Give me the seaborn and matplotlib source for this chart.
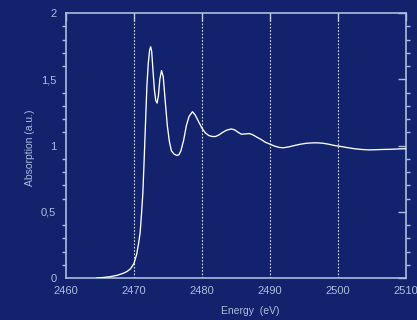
import numpy as np
import pandas as pd
import seaborn as sns
import matplotlib.pyplot as plt
from matplotlib.ticker import MultipleLocator, FuncFormatter

# values
energy = [2464.5, 2465.5, 2466.5, 2467.5, 2468.4, 2469.0, 2469.5, 2470.0, 2470.4, 2470.7,
          2470.9, 2471.1, 2471.3, 2471.5, 2471.7, 2471.9, 2472.1, 2472.3, 2472.45, 2472.6,
          2472.8, 2473.0, 2473.2, 2473.4, 2473.6, 2473.8, 2474.05, 2474.3, 2474.6, 2474.9,
          2475.2, 2475.5, 2475.9, 2476.3, 2476.6, 2476.9, 2477.3, 2477.7, 2478.1, 2478.6,
          2479.0, 2479.5, 2480.0, 2480.5, 2481.0, 2481.5, 2482.0, 2482.5, 2483.0, 2483.6,
          2484.3, 2484.8, 2485.3, 2485.8, 2486.4, 2487.0, 2487.5, 2488.0, 2488.7, 2489.3,
          2490.0, 2490.7, 2491.4, 2492.0, 2492.8, 2493.6, 2494.5, 2495.4, 2496.3, 2497.0,
          2497.8, 2498.6, 2499.5, 2500.5, 2501.5, 2502.5, 2503.5, 2504.5, 2505.5, 2506.5,
          2507.5, 2508.5, 2509.3, 2510.0]
absorption = [0.000, 0.004, 0.010, 0.020, 0.035, 0.050, 0.070, 0.110, 0.180, 0.270,
              0.340, 0.480, 0.640, 0.900, 1.180, 1.450, 1.620, 1.720, 1.745, 1.710,
              1.560, 1.420, 1.340, 1.320, 1.380, 1.500, 1.565, 1.520, 1.330, 1.150,
              1.030, 0.960, 0.935, 0.925, 0.930, 0.960, 1.040, 1.150, 1.220, 1.255,
              1.230, 1.180, 1.130, 1.095, 1.075, 1.068, 1.068, 1.080, 1.098, 1.115,
              1.125, 1.118, 1.100, 1.085, 1.088, 1.090, 1.080, 1.065, 1.045, 1.025,
              1.010, 0.995, 0.985, 0.983, 0.990, 1.000, 1.010, 1.017, 1.020, 1.020,
              1.017, 1.010, 1.000, 0.992, 0.983, 0.975, 0.970, 0.967, 0.968, 0.970,
              0.971, 0.973, 0.975, 0.976]
grid_x = [2470, 2480, 2490, 2500]

bg = '#13226c'
fg = '#a9bfdf'

df = pd.DataFrame({'energy': energy, 'absorption': absorption})

sns.set_style('dark')
plt.rcParams['font.family'] = ['Liberation Sans', 'DejaVu Sans']

fig = plt.figure(figsize=(4.17, 3.2), dpi=100, facecolor=bg)
ax = fig.add_axes([66/417, 42/320, 340/417, 265/320])
ax.set_facecolor(bg)

for gx in grid_x:
    ax.axvline(gx, color='#d5def0', lw=0.8, ls=(0, (1.5, 1.5)), zorder=1)

sns.lineplot(data=df, x='energy', y='absorption', color='white', lw=0.95, ax=ax, zorder=3)

ax.set_xlim(2460, 2510)
ax.set_ylim(0, 2)
ax.xaxis.set_major_locator(MultipleLocator(10))
ax.yaxis.set_major_locator(MultipleLocator(0.5))
ax.yaxis.set_minor_locator(MultipleLocator(0.1))
ax.yaxis.set_major_formatter(FuncFormatter(lambda v, p: ('%g' % v).replace('.', ',')))

for s in ax.spines.values():
    s.set_visible(True)
    s.set_color(fg)
    s.set_linewidth(1.2)

ax.tick_params(axis='both', which='major', direction='in', length=6, width=1,
               color=fg, labelcolor=fg, labelsize=8, top=True, right=True)
ax.tick_params(axis='y', which='minor', direction='out', length=3, width=1,
               color=fg, left=True, right=True)
ax.tick_params(axis='x', which='major', pad=6)
ax.tick_params(axis='y', which='major', pad=7)
ax.grid(False)

ax.set_xlabel('Energy  (eV)', color=fg, fontsize=7.5)
ax.set_ylabel('Absorption (a.u.)', color=fg, fontsize=7.5)
ax.xaxis.set_label_coords(0.541, -0.105)
ax.yaxis.set_label_coords(-0.092, 0.49)

fig.savefig('out.png', dpi=100, facecolor=bg)
